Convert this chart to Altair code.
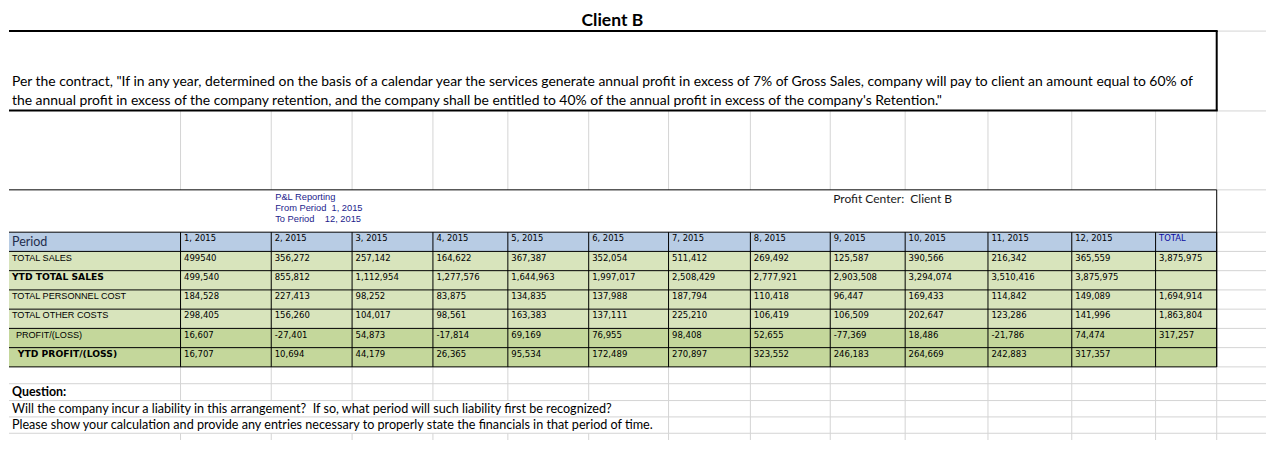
import altair as alt
import pandas as pd

# ---------------- data ----------------
title = "Client B"
contract_lines = [
    'Per the contract, "If in any year, determined on the basis of a calendar year the services generate annual profit in excess of 7% of Gross Sales, company will pay to client an amount equal to 60% of',
    "the annual profit in excess of the company retention, and the company shall be entitled to 40% of the annual profit in excess of the company's Retention.\"",
]
report_lines = ["P&L Reporting", "From Period\u00a0\u00a01, 2015", "To Period\u00a0\u00a0\u00a0\u00a012, 2015"]
profit_center = "Profit Center:\u00a0\u00a0Client B"
period_label = "Period"
periods = ["1, 2015", "2, 2015", "3, 2015", "4, 2015", "5, 2015", "6, 2015",
           "7, 2015", "8, 2015", "9, 2015", "10, 2015", "11, 2015", "12, 2015"]
total_label = "TOTAL"

row_labels = ["TOTAL SALES", "YTD TOTAL SALES", "TOTAL PERSONNEL COST",
              "TOTAL OTHER COSTS", "PROFIT/(LOSS)", "YTD PROFIT/(LOSS)"]
total_sales = ["499540", "356,272", "257,142", "164,622", "367,387", "352,054", "511,412",
               "269,492", "125,587", "390,566", "216,342", "365,559", "3,875,975"]
ytd_total_sales = ["499,540", "855,812", "1,112,954", "1,277,576", "1,644,963", "1,997,017",
                   "2,508,429", "2,777,921", "2,903,508", "3,294,074", "3,510,416", "3,875,975", ""]
personnel_cost = ["184,528", "227,413", "98,252", "83,875", "134,835", "137,988", "187,794",
                  "110,418", "96,447", "169,433", "114,842", "149,089", "1,694,914"]
other_costs = ["298,405", "156,260", "104,017", "98,561", "163,383", "137,111", "225,210",
               "106,419", "106,509", "202,647", "123,286", "141,996", "1,863,804"]
profit_loss = ["16,607", "-27,401", "54,873", "-17,814", "69,169", "76,955", "98,408",
               "52,655", "-77,369", "18,486", "-21,786", "74,474", "317,257"]
ytd_profit_loss = ["16,707", "10,694", "44,179", "26,365", "95,534", "172,489", "270,897",
                   "323,552", "246,183", "264,669", "242,883", "317,357", ""]
question_title = "Question:"
question_lines = [
    "Will the company incur a liability in this arrangement?\u00a0\u00a0If so, what period will such liability first be recognized?",
    "Please show your calculation and provide any entries necessary to properly state the financials in that period of time.",
]

# ---------------- sheet layout (in sheet pixels) ----------------
SHEET_W, SHEET_H = 1275, 449
COL_EDGES = [0, 174, 266, 348, 430, 506, 588, 669, 752, 833, 909, 993, 1078, 1163, 1225]
RIGHT = COL_EDGES[-1]
HEADER_TOP = 233
ROW_H = 20
ROW_TOPS = [HEADER_TOP + ROW_H * (i + 1) for i in range(6)]
TABLE_BOTTOM = HEADER_TOP + ROW_H * 7
LOWER_ROWS = [390.5, 408, 425, 442]
LABEL_INDENT = [3, 3, 3, 3, 7, 9]
LABEL_BOLD = [False, True, False, False, False, True]

rows_values = [total_sales, ytd_total_sales, personnel_cost, other_costs, profit_loss, ytd_profit_loss]

xs = alt.Scale(domain=[0, SHEET_W], nice=False, zero=False)
ys = alt.Scale(domain=[0, SHEET_H], nice=False, zero=False, reverse=True)


def X(f="x"):
    return alt.X(f"{f}:Q", scale=xs, axis=None)


def Y(f="y"):
    return alt.Y(f"{f}:Q", scale=ys, axis=None)


# ---- fills ----
fills = [{"x": 0, "x2": RIGHT, "y": HEADER_TOP, "y2": HEADER_TOP + ROW_H, "kind": "header"}]
for i, top in enumerate(ROW_TOPS):
    fills.append({"x": 0, "x2": RIGHT, "y": top, "y2": top + ROW_H,
                  "kind": "light" if i < 4 else "dark"})
fill_layer = alt.Chart(pd.DataFrame(fills)).mark_rect(strokeWidth=0).encode(
    x=X(), x2="x2:Q", y=Y(), y2="y2:Q",
    color=alt.Color("kind:N", legend=None,
                    scale=alt.Scale(domain=["header", "light", "dark"],
                                    range=["#B8CCE4", "#D8E4BC", "#C4D79B"])))

# ---- gray gridlines ----
grid = []
for e in COL_EDGES[1:]:
    grid.append({"x": e, "x2": e, "y": 107, "y2": 189})
    grid.append({"x": e, "x2": e, "y": TABLE_BOTTOM, "y2": 408})
    grid.append({"x": e, "x2": e, "y": 442, "y2": SHEET_H})
    if e >= 669:
        grid.append({"x": e, "x2": e, "y": 408, "y2": 442})
for yy in [24, 107, 189] + [HEADER_TOP] + [t for t in ROW_TOPS] + [TABLE_BOTTOM]:
    grid.append({"x": RIGHT, "x2": SHEET_W, "y": yy, "y2": yy})
for yy in LOWER_ROWS:
    grid.append({"x": 0, "x2": SHEET_W, "y": yy, "y2": yy})
grid_layer = alt.Chart(pd.DataFrame(grid)).mark_rule(color="#D4D4D4", strokeWidth=1).encode(
    x=X(), x2="x2:Q", y=Y(), y2="y2:Q")

# ---- black borders ----
thin = [{"x": 0, "x2": RIGHT, "y": 189, "y2": 189},
        {"x": RIGHT, "x2": RIGHT, "y": 189, "y2": TABLE_BOTTOM}]
for yy in [HEADER_TOP] + ROW_TOPS + [TABLE_BOTTOM]:
    thin.append({"x": 0, "x2": RIGHT, "y": yy, "y2": yy})
for e in COL_EDGES[1:]:
    thin.append({"x": e, "x2": e, "y": HEADER_TOP, "y2": TABLE_BOTTOM})
thin_layer = alt.Chart(pd.DataFrame(thin)).mark_rule(color="#000000", strokeWidth=1).encode(
    x=X(), x2="x2:Q", y=Y(), y2="y2:Q")

thick = [{"x": 0, "x2": RIGHT + 1, "y": 24, "y2": 24},
         {"x": 0, "x2": RIGHT + 1, "y": 106.5, "y2": 106.5},
         {"x": RIGHT, "x2": RIGHT, "y": 24, "y2": 106.5}]
thick_layer = alt.Chart(pd.DataFrame(thick)).mark_rule(color="#000000", strokeWidth=2).encode(
    x=X(), x2="x2:Q", y=Y(), y2="y2:Q")


# ---- texts ----
def text_layer(records, **kw):
    base = dict(align="left", baseline="middle")
    base.update(kw)
    return alt.Chart(pd.DataFrame(records)).mark_text(**base).encode(
        x=X(), y=Y(), text="t:N")


title_layer = text_layer([{"x": 612, "y": 13.5, "t": title}], align="center",
                         font="Lato", fontWeight="bold", fontSize=17.5, color="#000000")
contract_layer = text_layer([{"x": 3, "y": 77, "t": contract_lines[0]},
                             {"x": 3, "y": 97, "t": contract_lines[1]}],
                            font="Lato", fontSize=13.9, color="#000000")
report_layer = text_layer([{"x": 270, "y": 196 + 11.7 * i, "t": s} for i, s in enumerate(report_lines)],
                          font="Liberation Sans", fontSize=9.3, color="#1C1C8C")
pc_layer = text_layer([{"x": 836, "y": 199, "t": profit_center}],
                      font="Lato", fontSize=12, color="#1a1a1a")
period_layer = text_layer([{"x": 3, "y": 243.5, "t": period_label}],
                          font="Lato", fontSize=12.5, color="#1F2D4D")
hdr_layer = text_layer([{"x": COL_EDGES[j + 1] + 3.5, "y": HEADER_TOP + 6.5, "t": p}
                        for j, p in enumerate(periods)],
                       font="DejaVu Sans", fontSize=8.4, color="#000000")
total_hdr_layer = text_layer([{"x": COL_EDGES[13] + 3.5, "y": HEADER_TOP + 6.5, "t": total_label}],
                             font="DejaVu Sans", fontSize=8.4, color="#0A0AA0")
lab_norm = [{"x": LABEL_INDENT[i], "y": ROW_TOPS[i] + 6.5, "t": row_labels[i]}
            for i in range(6) if not LABEL_BOLD[i]]
lab_bold = [{"x": LABEL_INDENT[i], "y": ROW_TOPS[i] + 6.5, "t": row_labels[i]}
            for i in range(6) if LABEL_BOLD[i]]
lab_norm_layer = text_layer(lab_norm, font="Liberation Sans", fontSize=9.1, color="#000000")
lab_bold_layer = text_layer(lab_bold, font="DejaVu Sans", fontSize=9.2, fontWeight="bold",
                            color="#000000")
vals = []
for i, row in enumerate(rows_values):
    for j, v in enumerate(row):
        if v:
            vals.append({"x": COL_EDGES[j + 1] + 3.5, "y": ROW_TOPS[i] + 6.5, "t": v})
val_layer = text_layer(vals, font="DejaVu Sans", fontSize=8.5, color="#000000")

q_title_layer = text_layer([{"x": 3, "y": 399.5, "t": question_title}],
                           font="Lato", fontWeight="bold", fontSize=12.4, color="#000000")
q_layer = text_layer([{"x": 3, "y": 416.5, "t": question_lines[0]},
                      {"x": 3, "y": 433.5, "t": question_lines[1]}],
                     font="Lato", fontSize=12.6, color="#000000")

chart = alt.layer(
    fill_layer, grid_layer, thin_layer, thick_layer,
    title_layer, contract_layer, report_layer, pc_layer, period_layer,
    hdr_layer, total_hdr_layer, lab_norm_layer, lab_bold_layer, val_layer,
    q_title_layer, q_layer,
).properties(
    width=1259, height=433,
    autosize=alt.AutoSizeParams(type="fit", contains="padding"),
    padding=0, background="#FFFFFF",
).configure_view(stroke=None)

chart.save("out.html", embed_options={"renderer": "svg", "actions": False})
